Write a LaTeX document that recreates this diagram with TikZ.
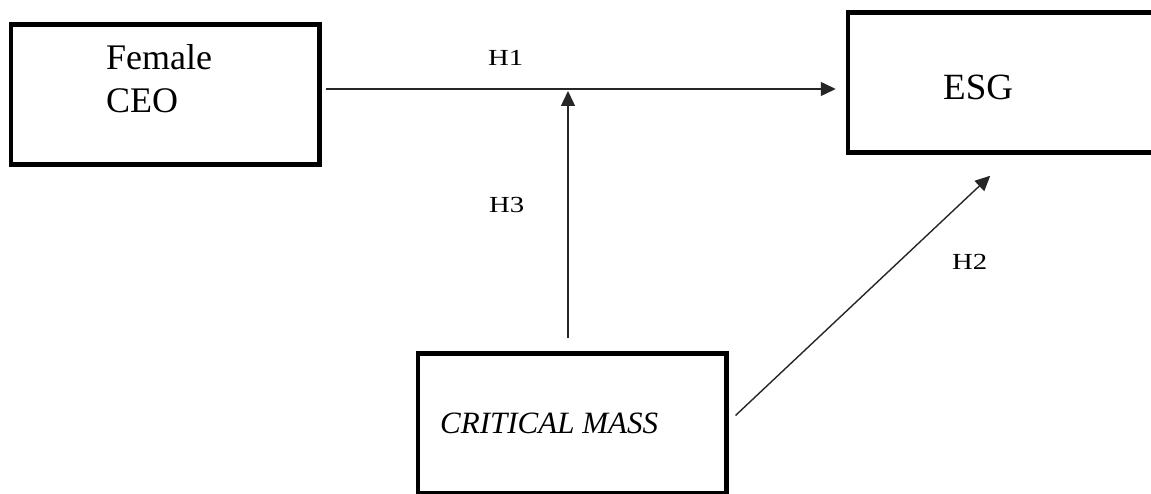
\documentclass[tikz,border=0pt]{standalone}
\usepackage{fontspec}
\usepackage{graphicx}
\setmainfont{Liberation Serif}
\usetikzlibrary{arrows.meta,calc}

\tikzset{
  varbox/.style={draw=black, line width=4.5pt, rectangle, inner sep=0pt,
    minimum width=308.5pt, minimum height=140pt},
  boxtext/.style={anchor=base west, inner sep=0pt, font=\fontsize{36}{42}\selectfont},
  hyplabel/.style={anchor=base west, inner sep=0pt, font=\fontsize{23}{27}\selectfont},
  link/.style={draw=black!85, line width=1.4pt,
    -{Triangle[length=15pt,width=14pt]}},
}
\newcommand{\hyp}[1]{\scalebox{1.25}[1]{#1}}

\begin{document}
\begin{tikzpicture}[x=1pt,y=-1pt]
  \useasboundingbox (0,0) rectangle (1151,494);
  \clip (0,0) rectangle (1151,494);

  % construct boxes
  \node[varbox] (fceo) at (165.25,94.5) {};
  \node[varbox] (esg)  at (1002.25,82.5) {};
  \node[varbox] (cm)   at (572,423.5) {};

  % box captions
  \node[boxtext] (fceo1) at (106,70) {Female};
  \node[boxtext] (fceo2) at (106,113) {CEO};
  \node[boxtext, font=\fontsize{37}{42}\selectfont] (esgt) at (943,100) {ESG};
  \node[boxtext, font=\fontsize{31}{36}\selectfont\itshape] (cmt) at (440,433) {CRITICAL MASS};

  % moderation point on the main path
  \coordinate (j) at (568,89);

  % H1: direct effect
  \draw[link, shorten <=4pt, shorten >=10pt] (fceo.east |- j) -- (esg.west |- j);
  % H3: moderating effect
  \draw[link, shorten <=13pt, shorten >=2pt] (cm.north -| j) -- (j);
  % H2: critical mass on ESG
  \draw[link] ($(cm.east)+(7,-8)$) -- ($(esg.south west)+(144.5,21)$);

  % hypothesis labels
  \node[hyplabel] (h1) at (488,66) {\hyp{H1}};
  \node[hyplabel] (h3) at (489,213) {\hyp{H3}};
  \node[hyplabel] (h2) at (952,270) {\hyp{H2}};
\end{tikzpicture}
\end{document}
